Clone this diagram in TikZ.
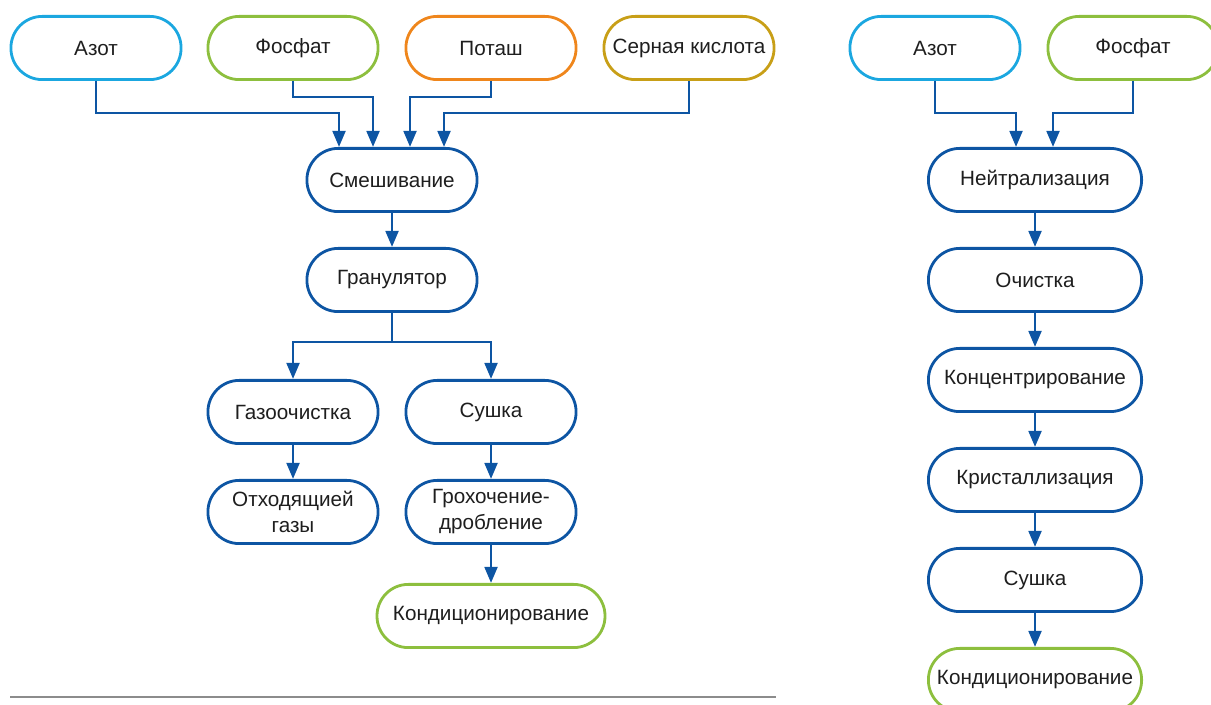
\documentclass[tikz,border=0pt]{standalone}
\usepackage{fontspec}
\setmainfont{Liberation Sans}
\usepackage{xcolor}
\usetikzlibrary{shapes,arrows.meta,positioning}

\definecolor{flowblue}{HTML}{0D55A3}
\definecolor{skyblue}{HTML}{1BA7E0}
\definecolor{leafgreen}{HTML}{8DBF3E}
\definecolor{orangeline}{HTML}{EF861C}
\definecolor{mustard}{HTML}{C89F17}
\definecolor{textgray}{HTML}{1E1E1E}
\definecolor{rulegray}{HTML}{8C8C8C}

\begin{document}
\begin{tikzpicture}[x=0.75pt, y=-0.75pt, node distance=75pt, auto]
% Define styles
\tikzstyle{pill} = [rectangle, rounded corners=23.5pt, minimum width=127.6pt, minimum height=47.4pt, text centered, align=center, draw=flowblue, line width=2.1pt, fill=white, text=textgray, font=\fontsize{15.5}{19.5}\selectfont, inner sep=2pt]
\tikzstyle{widepill} = [pill, minimum width=159.9pt]
\tikzstyle{arrow} = [line width=2.1pt, draw=flowblue, -{Triangle[length=12pt, width=9.5pt]}]

\useasboundingbox (0,0) rectangle (1211,705);

% Left scheme: place nodes
\node (azot) [pill, draw=skyblue] at (96,48) {Азот};
\node (fosfat) [pill, draw=leafgreen] at (293,48) {Фосфат};
\node (potash) [pill, draw=orangeline] at (491,48) {Поташ};
\node (acid) [pill, draw=mustard] at (689,48) {Серная кислота};
\node (mixing) [pill] at (392,180) {Смешивание};
\node (granulator) [pill, below of=mixing] {Гранулятор};
\node (gascleaning) [pill] at (293,412) {Газоочистка};
\node (drying) [pill] at (491,412) {Сушка};
\node (offgas) [pill, below of=gascleaning] {Отходящией\\газы};
\node (screening) [pill, below of=drying] {Грохочение-\\дробление};
\node (conditioning) [pill, minimum width=171pt, draw=leafgreen, below of=screening, yshift=-3pt] {Кондиционирование};

% Left scheme: draw arrows
\draw [arrow] (azot.south) -- ++(0,32) -| ([xshift=-39.75pt]mixing.north);
\draw [arrow] (fosfat.south) -- ++(0,16) -| ([xshift=-14.25pt]mixing.north);
\draw [arrow] (potash.south) -- ++(0,16) -| ([xshift=13.5pt]mixing.north);
\draw [arrow] (acid.south) -- ++(0,32) -| ([xshift=39pt]mixing.north);
\draw [arrow] (mixing) -- (granulator);
\draw [arrow] (granulator.south) -- ++(0,29) -| (gascleaning.north);
\draw [arrow] (granulator.south) -- ++(0,29) -| (drying.north);
\draw [arrow] (gascleaning) -- (offgas);
\draw [arrow] (drying) -- (screening);
\draw [arrow] (screening) -- (conditioning);

\draw [rulegray, line width=0.8pt] (10,697) -- (776,697);

% Right scheme: place nodes
\node (azotB) [pill, draw=skyblue] at (935,48) {Азот};
\node (fosfatB) [pill, draw=leafgreen] at (1133,48) {Фосфат};
\node (neutral) [widepill] at (1035,180) {Нейтрализация};
\node (cleaning) [widepill, below of=neutral] {Очистка};
\node (concentr) [widepill, below of=cleaning] {Концентрирование};
\node (crystal) [widepill, below of=concentr] {Кристаллизация};
\node (dryingB) [widepill, below of=crystal] {Сушка};
\node (conditioningB) [widepill, draw=leafgreen, below of=dryingB] {Кондиционирование};

% Right scheme: draw arrows
\draw [arrow] (azotB.south) -- ++(0,32) -| ([xshift=-14.25pt]neutral.north);
\draw [arrow] (fosfatB.south) -- ++(0,32) -| ([xshift=13.5pt]neutral.north);
\draw [arrow] (neutral) -- (cleaning);
\draw [arrow] (cleaning) -- (concentr);
\draw [arrow] (concentr) -- (crystal);
\draw [arrow] (crystal) -- (dryingB);
\draw [arrow] (dryingB) -- (conditioningB);
\end{tikzpicture}
\end{document}
